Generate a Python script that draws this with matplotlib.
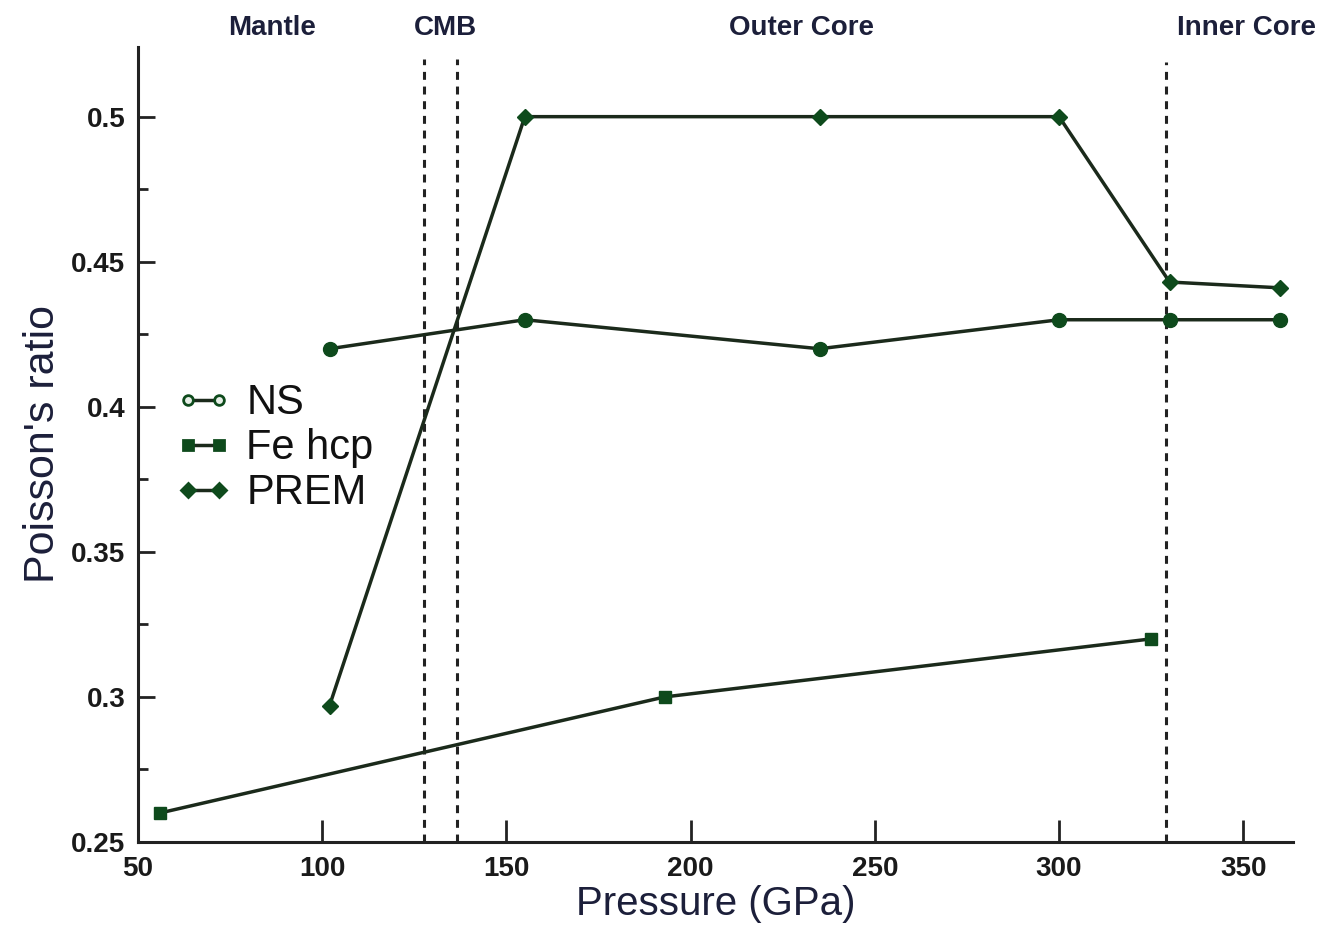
import matplotlib
matplotlib.use("Agg")
import matplotlib.pyplot as plt
from matplotlib.ticker import MultipleLocator, FormatStrFormatter

plt.rcParams['font.family'] = ['Liberation Sans', 'DejaVu Sans']

# Poisson's ratio versus pressure
ns_p = [102, 155, 235, 300, 330, 360]
ns_v = [0.42, 0.43, 0.42, 0.43, 0.43, 0.43]

fe_p = [56, 193, 325]
fe_v = [0.26, 0.30, 0.32]

prem_p = [102, 155, 235, 300, 330, 360]
prem_v = [0.297, 0.5, 0.5, 0.5, 0.443, 0.441]

# boundaries (GPa) and region names
boundaries = [127.6, 136.5, 329]
regions = ["Mantle", "CMB", "Outer Core", "Inner Core"]
region_p = [86.4, 133.4, 230, 351]

line_c = "#1b2a1b"
mark_c = "#0e4a1c"
text_c = "#1c1f3a"

fig = plt.figure(figsize=(13.24, 9.35), dpi=100)
ax = fig.add_axes([0.1042, 0.0995, 0.8724, 0.8502])

ax.plot(ns_p, ns_v, color=line_c, lw=2.5, marker="o", ms=10,
        mfc=mark_c, mec=mark_c, label="NS")
ax.plot(fe_p, fe_v, color=line_c, lw=2.5, marker="s", ms=9,
        mfc=mark_c, mec=mark_c, label="Fe hcp")
ax.plot(prem_p, prem_v, color=line_c, lw=2.5, marker="D", ms=8,
        mfc=mark_c, mec=mark_c, label="PREM")

for i, b in enumerate(boundaries):
    top = 0.52 if i < 2 else 0.519
    ax.vlines(b, 0.25, top, colors="#222222", lw=2.2,
              linestyles=(0, (2.6, 2.2)), zorder=1)

for name, p in zip(regions, region_p):
    ax.text(p, 0.5305, name, ha="center", va="center", fontsize=20,
            fontweight="bold", color=text_c, clip_on=False)

ax.set_xlim(50, 363.5)
ax.set_ylim(0.25, 0.524)

ax.spines["top"].set_visible(False)
ax.spines["right"].set_visible(False)
for s in ("left", "bottom"):
    ax.spines[s].set_linewidth(2.2)
    ax.spines[s].set_color("#222222")

ax.xaxis.set_major_locator(MultipleLocator(50))
ax.yaxis.set_major_locator(MultipleLocator(0.05))
ax.yaxis.set_minor_locator(MultipleLocator(0.025))
ax.yaxis.set_major_formatter(FormatStrFormatter("%g"))
ax.tick_params(axis="x", which="major", direction="in", length=16, width=2,
               labelsize=20, pad=10, color="#222222")
ax.tick_params(axis="y", which="major", direction="in", length=12, width=2,
               labelsize=20, pad=9, color="#222222")
ax.tick_params(axis="y", which="minor", direction="in", length=7, width=2,
               color="#222222")
for lab in ax.get_xticklabels() + ax.get_yticklabels():
    lab.set_fontweight("bold")
    lab.set_color("#1a1a1a")

ax.set_xlabel("Pressure (GPa)", fontsize=29, color=text_c, labelpad=2)
ax.set_ylabel("Poisson's ratio", fontsize=31, color=text_c, labelpad=6)

leg = ax.legend(loc="upper left", bbox_to_anchor=(0.018, 0.598), numpoints=2,
                frameon=False, fontsize=30, handlelength=1.35, handletextpad=0.35,
                labelspacing=0.12, borderaxespad=0)
for h in leg.legend_handles:
    h.set_markersize(7)
    h.set_markeredgewidth(2)
leg.legend_handles[0].set_markerfacecolor("#e8efe8")
for t in leg.get_texts():
    t.set_color("#111111")

fig.savefig("out.png", dpi=100)
